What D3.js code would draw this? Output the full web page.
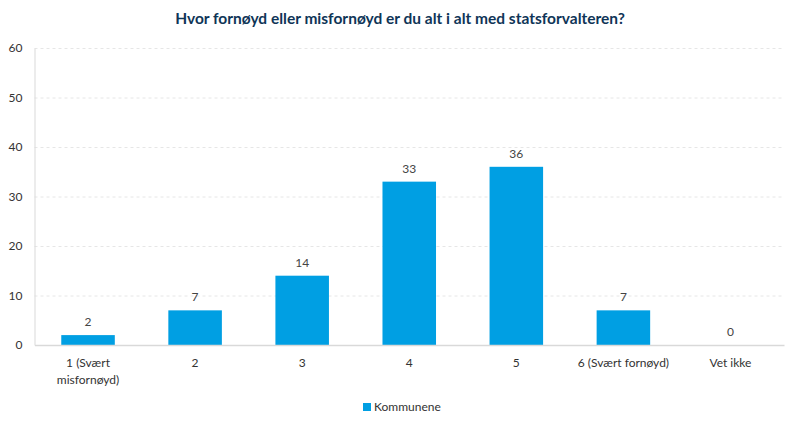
<!DOCTYPE html>
<html><head><meta charset="utf-8">
<script src="https://cdn.jsdelivr.net/npm/d3@7"></script>
<style>body{margin:0;background:#fff;font-family:Lato,"Open Sans",sans-serif;}</style>
</head><body><svg id="c" width="800" height="428"></svg>
<script>
const categories = ["1 (Svært misfornøyd)", "2", "3", "4", "5", "6 (Svært fornøyd)", "Vet ikke"];
const values = [2, 7, 14, 33, 36, 7, 0];
const yTicks = [0, 10, 20, 30, 40, 50, 60];
const seriesName = "Kommunene";
const title = "Hvor fornøyd eller misfornøyd er du alt i alt med statsforvalteren?";

const svg = d3.select("#c");
const m = {l:34.5, r:16, t:48, b:83};
const W = 800, H = 428;
const x = d3.scaleBand().domain(categories).range([m.l, W - m.r]).paddingInner(0.5).paddingOuter(0.25);
const y = d3.scaleLinear().domain([0, 60]).range([H - m.b, m.t]);

svg.append("text").attr("x", 400).attr("y", 24).attr("text-anchor", "middle")
  .attr("font-size", 15.5).attr("font-weight", "bold").attr("fill", "#0f3557").text(title);

// grid
svg.append("g").selectAll("line").data(yTicks.filter(d => d > 0)).join("line")
  .attr("x1", m.l).attr("x2", W - m.r).attr("y1", d => y(d) + 0.5).attr("y2", d => y(d) + 0.5)
  .attr("stroke", "#e6e6e6").attr("stroke-dasharray", "3,3");

// y axis
const ya = svg.append("g").attr("transform", `translate(${m.l},0)`)
  .call(d3.axisLeft(y).tickValues(yTicks).tickSize(0).tickPadding(12));
ya.select(".domain").attr("stroke", "#d9d9d9");
ya.selectAll("text").attr("font-size", 12).attr("fill", "#333").attr("font-family", "Lato, sans-serif");

// bars
svg.append("g").selectAll("rect").data(values).join("rect")
  .attr("x", (d, i) => x(categories[i])).attr("width", x.bandwidth())
  .attr("y", d => y(d)).attr("height", d => y(0) - y(d)).attr("fill", "#009fe3");

// labels
svg.append("g").selectAll("text").data(values).join("text")
  .attr("x", (d, i) => x(categories[i]) + x.bandwidth() / 2).attr("y", d => y(d) - 9)
  .attr("text-anchor", "middle").attr("font-size", 12).attr("fill", "#444").text(d => d);

// x axis
const xa = svg.append("g").attr("transform", `translate(0,${y(0)})`)
  .call(d3.axisBottom(x).tickSize(0).tickPadding(14).tickFormat(() => ""));
xa.select(".domain").attr("stroke", "#d9d9d9").attr("stroke-width", 1.5);
xa.selectAll("text").remove();
const labLines = {"1 (Svært misfornøyd)": ["1 (Svært", "misfornøyd)"]};
categories.forEach(c => {
  const lines = labLines[c] || [c];
  const t = svg.append("text").attr("x", x(c) + x.bandwidth() / 2).attr("y", y(0) + 22)
    .attr("text-anchor", "middle").attr("font-size", 12).attr("fill", "#333");
  lines.forEach((l, i) => t.append("tspan").attr("x", x(c) + x.bandwidth() / 2).attr("dy", i ? 17 : 0).text(l));
});

// legend
const lg = svg.append("g");
lg.append("rect").attr("x", 363).attr("y", 403).attr("width", 8).attr("height", 8).attr("fill", "#009fe3");
lg.append("text").attr("x", 374).attr("y", 411).attr("font-size", 12).attr("fill", "#333").text(seriesName);
</script></body></html>
